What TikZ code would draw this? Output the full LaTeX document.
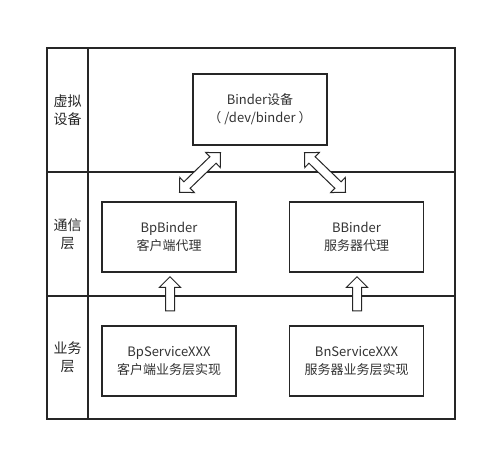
\documentclass[tikz,border=0pt]{standalone}
\usepackage{fontspec}
\setmainfont{Noto Sans CJK SC}
\usetikzlibrary{shapes.arrows}
\begin{document}
\begin{tikzpicture}[x=1pt,y=1pt,
  frame/.style={line width=1.6pt, draw=black!85},
  box/.style={draw=black!85, line width=1.4pt, fill=white, minimum width=134pt, minimum height=70pt, align=center, font=\fontsize{13}{18}\selectfont, text=black!80},
  lab/.style={align=center, font=\fontsize{14}{18}\selectfont, text=black!85},
  uparr/.style={single arrow, draw=black!85, fill=white, line width=1pt, rotate=90, minimum height=34pt, inner sep=4pt, single arrow head extend=6pt, single arrow tip angle=90},
  dblarr/.style={double arrow, draw=black!85, fill=white, line width=1pt, minimum height=57pt, inner sep=4pt, double arrow head extend=6pt, double arrow tip angle=90}
]
\useasboundingbox (0,0) rectangle (487,-452);
\draw[frame] (47,-48) rectangle (455,-419);
\draw[frame] (88,-48) -- (88,-419);
\draw[frame] (47,-172) -- (455,-172);
\draw[frame] (47,-296) -- (455,-296);

\node[lab] (l1) at (67.5,-110) {虚拟\\设备};
\node[lab] (l2) at (67.5,-234) {通信\\层};
\node[lab] (l3) at (67.5,-357.5) {业务\\层};

\node[dblarr, rotate=44] (d1) at (200,-172.5) {};
\node[dblarr, rotate=-44] (d2) at (325,-172.5) {};
\node[uparr] (u1) at (170,-296) {};
\node[uparr] (u2) at (357,-296) {};

\node[box, minimum height=71pt] (dev) at (260,-109.5) {Binder设备\\（ /dev/binder ）};
\node[box] (bp) at (169,-237) {BpBinder\\客户端代理};
\node[box] (bb) at (356.5,-237) {BBinder\\服务器代理};
\node[box] (bps) at (169,-361) {BpServiceXXX\\客户端业务层实现};
\node[box] (bns) at (356.5,-361) {BnServiceXXX\\服务器业务层实现};
\end{tikzpicture}
\end{document}
